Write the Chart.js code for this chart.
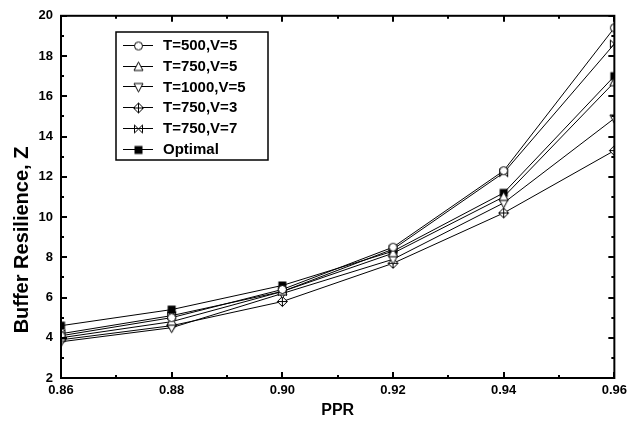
<!DOCTYPE html>
<html>
<head>
<meta charset="utf-8">
<script src="https://cdn.jsdelivr.net/npm/chart.js@4/dist/chart.umd.min.js"></script>
<style>
    html, body { margin: 0; padding: 0; background: #fff; }
    #wrap { width: 632px; height: 430px; }
</style>
</head>
<body>
<div id="wrap"><canvas id="chart" width="632" height="430"></canvas></div>
<script>
// ------------------------------------------------------------------------
// Data
// ------------------------------------------------------------------------
const ppr = [0.86, 0.88, 0.90, 0.92, 0.94, 0.96];

const seriesLabels = ['T=500,V=5', 'T=750,V=5', 'T=1000,V=5', 'T=750,V=3', 'T=750,V=7', 'Optimal'];
const markerKinds  = ['circle', 'up', 'down', 'diamond', 'x', 'square'];

const t500v5  = [4.1, 5.0, 6.4, 8.5, 12.3, 19.4];
const t750v5  = [4.0, 4.8, 6.3, 8.2, 11.0, 16.7];
const t1000v5 = [3.8, 4.5, 6.2, 7.9, 10.7, 14.9];
const t750v3  = [3.9, 4.6, 5.8, 7.7, 10.2, 13.3];
const t750v7  = [4.2, 5.1, 6.3, 8.4, 12.2, 18.6];
const optimal = [4.6, 5.4, 6.6, 8.3, 11.2, 17.0];

const xTicks = [0.86, 0.88, 0.90, 0.92, 0.94, 0.96];
const yTicks = [2, 4, 6, 8, 10, 12, 14, 16, 18, 20];

const FONT = '"Liberation Sans", Arial, sans-serif';

// ------------------------------------------------------------------------
// Marker images (open symbols, like the original plot)
// ------------------------------------------------------------------------
function marker(kind) {
    const c = document.createElement('canvas');
    c.width = 13; c.height = 13;
    const g = c.getContext('2d');
    const m = 6.5, r = 4;
    g.strokeStyle = '#000';
    g.fillStyle = '#fff';
    g.lineWidth = 1;
    g.beginPath();
    switch (kind) {
        case 'circle':
            g.arc(m, m, r, 0, Math.PI * 2);
            g.fill(); g.stroke();
            break;
        case 'up':
            g.moveTo(m, m - r - 1); g.lineTo(m + r + 0.5, m + r - 0.5); g.lineTo(m - r - 0.5, m + r - 0.5);
            g.closePath(); g.fill(); g.stroke();
            break;
        case 'down':
            g.moveTo(m, m + r + 1); g.lineTo(m + r + 0.5, m - r + 0.5); g.lineTo(m - r - 0.5, m - r + 0.5);
            g.closePath(); g.fill(); g.stroke();
            break;
        case 'diamond':
            g.moveTo(m, m - r - 1); g.lineTo(m + r + 1, m); g.lineTo(m, m + r + 1); g.lineTo(m - r - 1, m);
            g.closePath(); g.fill(); g.stroke();
            g.beginPath();
            g.moveTo(m, m - r - 1); g.lineTo(m, m + r + 1);
            g.moveTo(m - r - 1, m); g.lineTo(m + r + 1, m);
            g.stroke();
            break;
        case 'x':
            g.moveTo(m - r, m - r); g.lineTo(m + r, m + r);
            g.moveTo(m + r, m - r); g.lineTo(m - r, m + r);
            g.moveTo(m - r, m - r); g.lineTo(m - r, m + r);
            g.moveTo(m + r, m - r); g.lineTo(m + r, m + r);
            g.stroke();
            break;
        case 'square':
            g.fillStyle = '#000';
            g.fillRect(m - 4, m - 4, 8, 8);
            break;
    }
    return c;
}

// ------------------------------------------------------------------------
// Frame with inward ticks on all four sides, legend box and y title
// ------------------------------------------------------------------------
const framePlugin = {
    id: 'frame',
    afterDraw(chart) {
        const { ctx, chartArea: a, scales: { x, y } } = chart;
        ctx.save();
        ctx.strokeStyle = '#000';
        ctx.lineWidth = 2;
        ctx.strokeRect(a.left, a.top, a.right - a.left, a.bottom - a.top);

        ctx.beginPath();
        for (let v = 0.86; v <= 0.9601; v += 0.01) {
            const px = Math.round(x.getPixelForValue(v));
            const major = Math.round(v * 100) % 2 === 0;
            const len = major ? 6 : 3;
            ctx.moveTo(px, a.bottom); ctx.lineTo(px, a.bottom - len);
            ctx.moveTo(px, a.top); ctx.lineTo(px, a.top + len);
        }
        for (let v = 2; v <= 20; v += 1) {
            const py = Math.round(y.getPixelForValue(v));
            const len = v % 2 === 0 ? 6 : 3;
            ctx.moveTo(a.left, py); ctx.lineTo(a.left + len, py);
            ctx.moveTo(a.right, py); ctx.lineTo(a.right - len, py);
        }
        ctx.stroke();

        // legend
        const box = { left: 116, top: 32, right: 268, bottom: 160 };
        ctx.lineWidth = 1.5;
        ctx.strokeRect(box.left, box.top, box.right - box.left, box.bottom - box.top);
        ctx.font = 'bold 15px ' + FONT;
        ctx.fillStyle = '#000';
        ctx.textBaseline = 'middle';
        ctx.textAlign = 'left';
        chart.data.datasets.forEach((ds, i) => {
            const ry = 45 + i * 20.7;
            ctx.lineWidth = 1;
            ctx.beginPath();
            ctx.moveTo(123, Math.round(ry) + 0.5);
            ctx.lineTo(153, Math.round(ry) + 0.5);
            ctx.stroke();
            const img = ds.pointStyle;
            ctx.drawImage(img, 138 - img.width / 2 + 0.5, Math.round(ry) - img.height / 2 + 1);
            ctx.fillText(ds.label, 163, ry + 1);
        });

        // y axis title
        ctx.translate(22, 240);
        ctx.rotate(-Math.PI / 2);
        ctx.textAlign = 'center';
        ctx.font = 'bold 20px ' + FONT;
        ctx.fillText('Buffer Resilience, Z', 0, 0);
        ctx.restore();
    }
};

// ------------------------------------------------------------------------
// Chart
// ------------------------------------------------------------------------
const seriesData = [t500v5, t750v5, t1000v5, t750v3, t750v7, optimal];

const datasets = seriesLabels.map((label, i) => ({
    label: label,
    data: ppr.map((p, j) => ({ x: p, y: seriesData[i][j] })),
    borderColor: '#000',
    borderWidth: 1,
    backgroundColor: '#fff',
    pointStyle: marker(markerKinds[i]),
    tension: 0
}));

new Chart(document.getElementById('chart'), {
    type: 'line',
    data: { datasets: datasets },
    plugins: [framePlugin],
    options: {
        responsive: false,
        animation: false,
        devicePixelRatio: 1,
        layout: { padding: { left: 0, right: 15, top: 12, bottom: 0 } },
        plugins: {
            legend: { display: false },
            tooltip: { enabled: false }
        },
        scales: {
            x: {
                type: 'linear',
                min: 0.86,
                max: 0.96,
                afterBuildTicks: s => { s.ticks = xTicks.map(v => ({ value: v })); },
                afterFit: s => { s.height = 52; },
                grid: { display: false, drawTicks: false },
                border: { display: false },
                ticks: {
                    padding: 5,
                    color: '#000',
                    font: { family: FONT, size: 13, weight: 'bold' },
                    maxRotation: 0,
                    callback: v => v.toFixed(2)
                },
                title: {
                    display: true,
                    text: 'PPR',
                    color: '#000',
                    font: { family: FONT, size: 16, weight: 'bold' },
                    padding: { top: 0, bottom: 10 }
                }
            },
            y: {
                min: 2,
                max: 20,
                afterBuildTicks: s => { s.ticks = yTicks.map(v => ({ value: v })); },
                afterFit: s => { s.width = 61; },
                grid: { display: false, drawTicks: false },
                border: { display: false },
                ticks: {
                    padding: 8,
                    color: '#000',
                    font: { family: FONT, size: 13, weight: 'bold' }
                }
            }
        }
    }
});
</script>
</body>
</html>
